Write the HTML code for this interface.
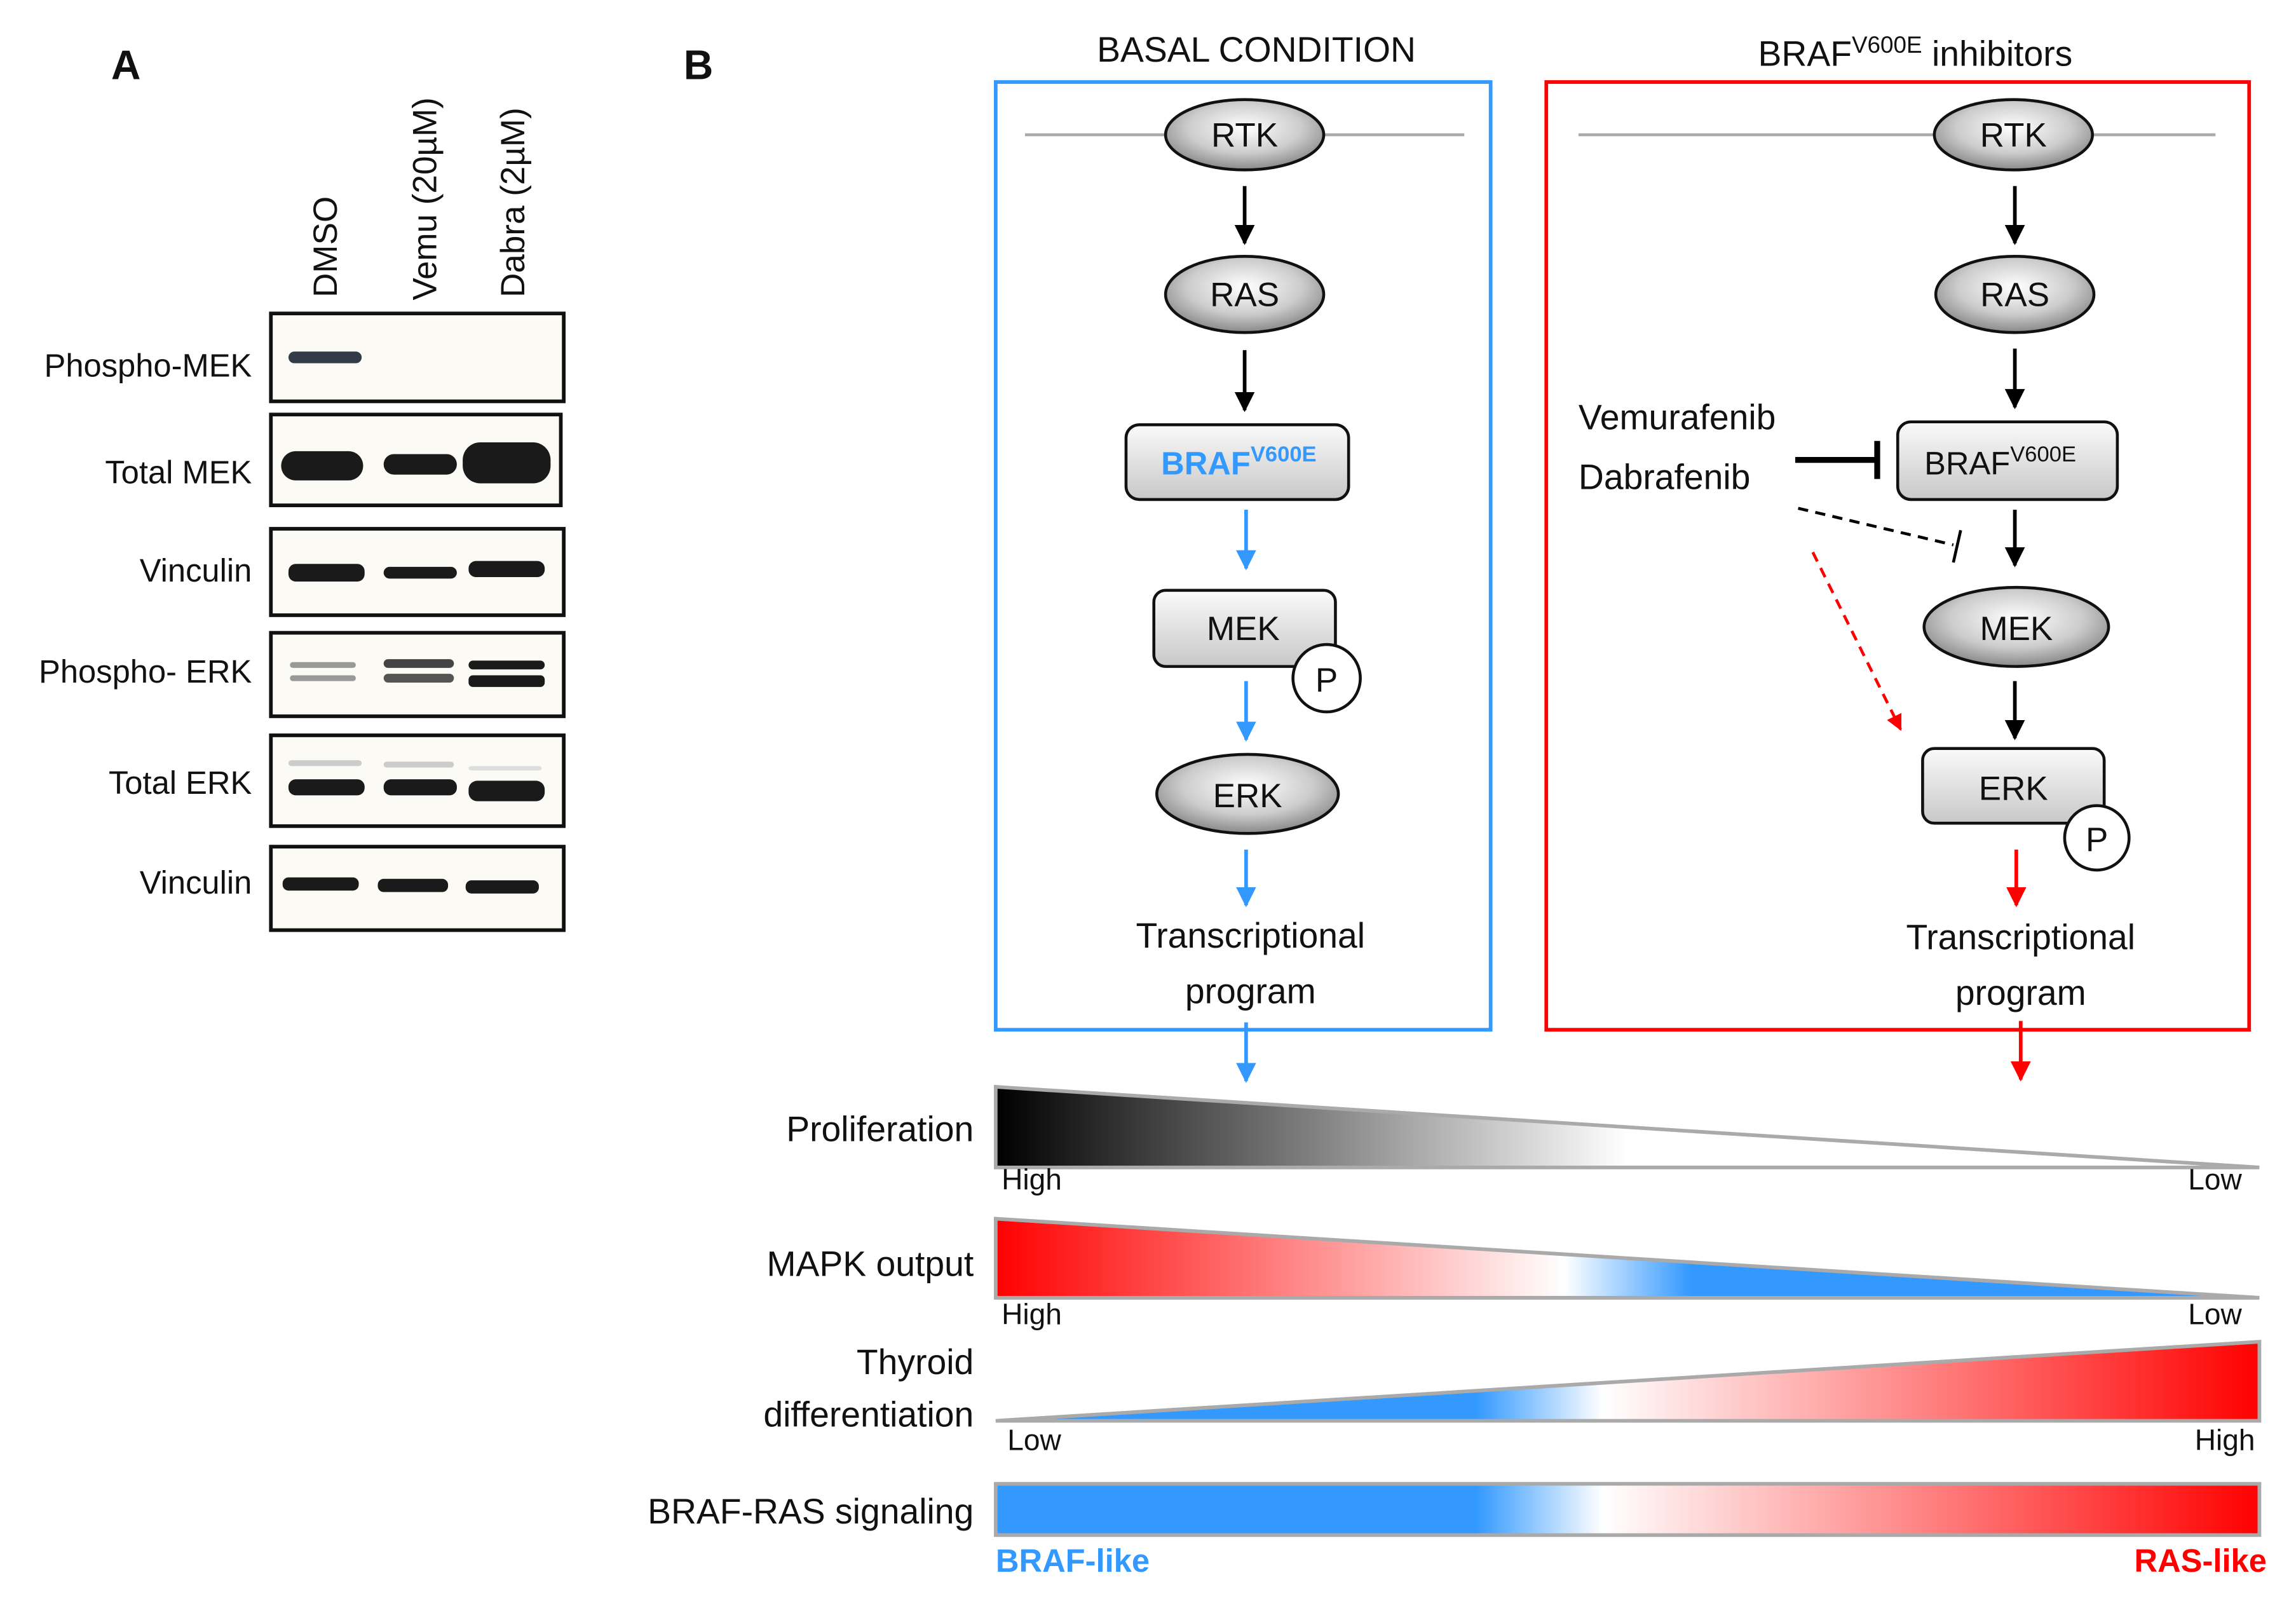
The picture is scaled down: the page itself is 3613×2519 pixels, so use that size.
<!DOCTYPE html>
<html><head><meta charset="utf-8"><style>
html,body{margin:0;padding:0;background:#fff}
svg{display:block}
text{font-family:"Liberation Sans Narrow","Liberation Sans",sans-serif;fill:#111}
</style></head><body>
<svg width="3613" height="2519" viewBox="0 0 1568 1093" preserveAspectRatio="none" xmlns="http://www.w3.org/2000/svg">
<defs>
<radialGradient id="eg" cx="50%" cy="40%" r="60%"><stop offset="0" stop-color="#fff"/><stop offset="0.6" stop-color="#ccc"/><stop offset="1" stop-color="#888"/></radialGradient>
<linearGradient id="rg" x1="0" y1="0" x2="0" y2="1"><stop offset="0" stop-color="#fafafa"/><stop offset="1" stop-color="#c8c8c8"/></linearGradient>
<linearGradient id="g1" x1="0" x2="1"><stop offset="0" stop-color="#000"/><stop offset="0.5" stop-color="#fff"/><stop offset="1" stop-color="#fff"/></linearGradient>
<linearGradient id="g2" x1="0" x2="1"><stop offset="0" stop-color="#ff0000"/><stop offset="0.45" stop-color="#fff"/><stop offset="0.55" stop-color="#3399ff"/><stop offset="1" stop-color="#3399ff"/></linearGradient>
<linearGradient id="g3" x1="0" x2="1"><stop offset="0" stop-color="#3399ff"/><stop offset="0.38" stop-color="#3399ff"/><stop offset="0.48" stop-color="#fff"/><stop offset="1" stop-color="#ff0000"/></linearGradient>
<marker id="ak" viewBox="0 0 10 10" refX="9" refY="5" markerWidth="5.5" markerHeight="5.5" orient="auto"><path d="M0,0L10,5L0,10z" fill="#000"/></marker>
<marker id="ab" viewBox="0 0 10 10" refX="9" refY="5" markerWidth="5.5" markerHeight="5.5" orient="auto"><path d="M0,0L10,5L0,10z" fill="#3399ff"/></marker>
<marker id="ar" viewBox="0 0 10 10" refX="9" refY="5" markerWidth="5.5" markerHeight="5.5" orient="auto"><path d="M0,0L10,5L0,10z" fill="#ff0000"/></marker>
</defs>

<!-- Panel A -->
<text x="86" y="54" font-size="28" font-weight="bold" text-anchor="middle" style="font-family:'Liberation Sans',sans-serif">A</text>
<text transform="translate(230,203) rotate(-90)" font-size="23">DMSO</text>
<text transform="translate(298,205) rotate(-90)" font-size="23">Vemu (20µM)</text>
<text transform="translate(358,203) rotate(-90)" font-size="23">Dabra (2µM)</text>
<g font-size="22" text-anchor="end">
<text x="172" y="257">Phospho-MEK</text>
<text x="172" y="330">Total MEK</text>
<text x="172" y="397">Vinculin</text>
<text x="172" y="466">Phospho- ERK</text>
<text x="172" y="542">Total ERK</text>
<text x="172" y="610">Vinculin</text>
</g>
<g fill="#fbfaf4" stroke="#111" stroke-width="2.5">
<rect x="185" y="214" width="200" height="60"/>
<rect x="185" y="283" width="198" height="62"/>
<rect x="185" y="361" width="200" height="59"/>
<rect x="185" y="432" width="200" height="57"/>
<rect x="185" y="502" width="200" height="62"/>
<rect x="185" y="578" width="200" height="57"/>
</g>
<g fill="#1a1a1a">
<rect x="197" y="240" width="50" height="8" rx="4" fill="#333a48"/>
<rect x="192" y="308" width="56" height="20" rx="10"/>
<rect x="262" y="310" width="50" height="14" rx="7"/>
<rect x="316" y="302" width="60" height="28" rx="12"/>
<rect x="197" y="385" width="52" height="12" rx="5"/>
<rect x="262" y="387" width="50" height="8" rx="4"/>
<rect x="320" y="383" width="52" height="11" rx="5"/>
<rect x="198" y="452" width="45" height="4" rx="2" fill="#999"/>
<rect x="198" y="461" width="45" height="4" rx="2" fill="#999"/>
<rect x="262" y="450" width="48" height="6" rx="3" fill="#444"/>
<rect x="262" y="460" width="48" height="6" rx="3" fill="#555"/>
<rect x="320" y="451" width="52" height="6" rx="3"/>
<rect x="320" y="461" width="52" height="8" rx="3"/>
<rect x="197" y="519" width="50" height="4" rx="2" fill="#ccc"/>
<rect x="197" y="532" width="52" height="11" rx="5"/>
<rect x="262" y="520" width="48" height="4" rx="2" fill="#ccc"/>
<rect x="262" y="532" width="50" height="11" rx="5"/>
<rect x="320" y="523" width="50" height="3" rx="2" fill="#ddd"/>
<rect x="320" y="533" width="52" height="14" rx="6"/>
<rect x="193" y="599" width="52" height="9" rx="4"/>
<rect x="258" y="600" width="48" height="9" rx="4"/>
<rect x="318" y="601" width="50" height="9" rx="4"/>
</g>

<!-- Panel B -->
<text x="477" y="54" font-size="28" font-weight="bold" text-anchor="middle" style="font-family:'Liberation Sans',sans-serif">B</text>
<text x="858" y="42" font-size="24" text-anchor="middle">BASAL CONDITION</text>
<text x="1308" y="45" font-size="24" text-anchor="middle">BRAF<tspan font-size="16" dy="-9">V600E</tspan><tspan dy="9"> inhibitors</tspan></text>
<rect x="680" y="56" width="338" height="647" fill="none" stroke="#3399ff" stroke-width="2.5"/>
<rect x="1056" y="56" width="480" height="647" fill="none" stroke="#ff0000" stroke-width="2.5"/>
<line x1="700" y1="92" x2="1000" y2="92" stroke="#aaa" stroke-width="2"/>
<line x1="1078" y1="92" x2="1513" y2="92" stroke="#aaa" stroke-width="2"/>

<g stroke="#111" stroke-width="2" fill="url(#eg)">
<ellipse cx="850" cy="92" rx="54" ry="24"/>
<ellipse cx="850" cy="201" rx="54" ry="26"/>
<rect x="769" y="290" width="152" height="51" rx="9" fill="url(#rg)"/>
<rect x="788" y="403" width="124" height="52" rx="8" fill="url(#rg)"/>
<circle cx="906" cy="463" r="23" fill="#fff"/>
<ellipse cx="852" cy="542" rx="62" ry="27"/>
<ellipse cx="1375" cy="92" rx="54" ry="24"/>
<ellipse cx="1376" cy="201" rx="54" ry="26"/>
<rect x="1296" y="288" width="150" height="53" rx="9" fill="url(#rg)"/>
<ellipse cx="1377" cy="428" rx="63" ry="27"/>
<rect x="1313" y="511" width="124" height="51" rx="8" fill="url(#rg)"/>
<circle cx="1432" cy="572" r="22" fill="#fff"/>
</g>
<g font-size="23" text-anchor="middle">
<text x="850" y="100">RTK</text>
<text x="850" y="209">RAS</text>
<text x="846" y="324" font-weight="bold" style="fill:#3399ff;font-family:'Liberation Sans',sans-serif" font-size="22">BRAF<tspan font-size="15" dy="-9">V600E</tspan></text>
<text x="849" y="437">MEK</text>
<text x="906" y="472">P</text>
<text x="852" y="551">ERK</text>
<text x="1375" y="100">RTK</text>
<text x="1376" y="209">RAS</text>
<text x="1366" y="324" font-size="22">BRAF<tspan font-size="15" dy="-9">V600E</tspan></text>
<text x="1377" y="437">MEK</text>
<text x="1375" y="546">ERK</text>
<text x="1432" y="581">P</text>
<text x="854" y="647" font-size="24">Transcriptional</text>
<text x="854" y="685" font-size="24">program</text>
<text x="1380" y="648" font-size="24">Transcriptional</text>
<text x="1380" y="686" font-size="24">program</text>
</g>
<text x="1078" y="293" font-size="24">Vemurafenib</text>
<text x="1078" y="334" font-size="24">Dabrafenib</text>

<g stroke-width="2.5" fill="none">
<line x1="850" y1="127" x2="850" y2="166" stroke="#000" marker-end="url(#ak)"/>
<line x1="850" y1="239" x2="850" y2="280" stroke="#000" marker-end="url(#ak)"/>
<line x1="851" y1="348" x2="851" y2="388" stroke="#3399ff" marker-end="url(#ab)"/>
<line x1="851" y1="465" x2="851" y2="505" stroke="#3399ff" marker-end="url(#ab)"/>
<line x1="851" y1="580" x2="851" y2="618" stroke="#3399ff" marker-end="url(#ab)"/>
<line x1="851" y1="698" x2="851" y2="738" stroke="#3399ff" marker-end="url(#ab)"/>
<line x1="1376" y1="127" x2="1376" y2="166" stroke="#000" marker-end="url(#ak)"/>
<line x1="1376" y1="238" x2="1376" y2="278" stroke="#000" marker-end="url(#ak)"/>
<line x1="1376" y1="348" x2="1376" y2="386" stroke="#000" marker-end="url(#ak)"/>
<line x1="1376" y1="465" x2="1376" y2="504" stroke="#000" marker-end="url(#ak)"/>
<line x1="1377" y1="580" x2="1377" y2="618" stroke="#ff0000" marker-end="url(#ar)"/>
<line x1="1380" y1="697" x2="1380" y2="737" stroke="#ff0000" marker-end="url(#ar)"/>
<line x1="1226" y1="314" x2="1282" y2="314" stroke="#000" stroke-width="4"/>
<line x1="1282" y1="301" x2="1282" y2="327" stroke="#000" stroke-width="4"/>
<line x1="1228" y1="347" x2="1334" y2="372" stroke="#000" stroke-width="2" stroke-dasharray="7,5"/>
<line x1="1339" y1="362" x2="1334" y2="384" stroke="#000" stroke-width="2"/>
<line x1="1238" y1="377" x2="1298" y2="498" stroke="#ff0000" stroke-width="2" stroke-dasharray="7,5" marker-end="url(#ar)"/>
</g>

<!-- gradients -->
<polygon points="680,742 1543,797 680,797" fill="url(#g1)" stroke="#aaa" stroke-width="2.5"/>
<polygon points="680,832 1543,886 680,886" fill="url(#g2)" stroke="#aaa" stroke-width="2.5"/>
<polygon points="680,970 1543,916 1543,970" fill="url(#g3)" stroke="#aaa" stroke-width="2.5"/>
<rect x="680" y="1013" width="863" height="35" fill="url(#g3)" stroke="#aaa" stroke-width="2.5"/>
<g font-size="24" text-anchor="end">
<text x="665" y="779">Proliferation</text>
<text x="665" y="871">MAPK output</text>
<text x="665" y="938">Thyroid</text>
<text x="665" y="974">differentiation</text>
<text x="665" y="1040">BRAF-RAS signaling</text>
</g>
<g font-size="20">
<text x="684" y="812">High</text>
<text x="1531" y="812" text-anchor="end">Low</text>
<text x="684" y="904">High</text>
<text x="1531" y="904" text-anchor="end">Low</text>
<text x="688" y="990">Low</text>
<text x="1540" y="990" text-anchor="end">High</text>
</g>
<text x="680" y="1073" font-size="22" font-weight="bold" style="fill:#3399ff;font-family:'Liberation Sans',sans-serif">BRAF-like</text>
<text x="1548" y="1073" font-size="22" font-weight="bold" text-anchor="end" style="fill:#ff0000;font-family:'Liberation Sans',sans-serif">RAS-like</text>
</svg>
</body></html>
